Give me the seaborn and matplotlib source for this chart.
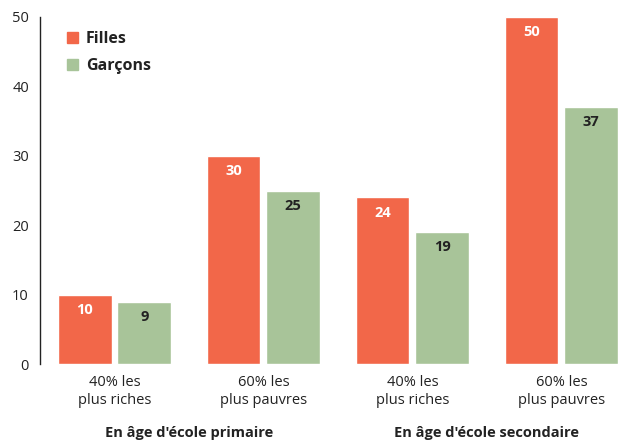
import pandas as pd
import matplotlib.pyplot as plt
import seaborn as sns
from matplotlib.patches import Patch

# Chart values
categories = ['prim_riches', 'prim_pauvres', 'sec_riches', 'sec_pauvres']
tick_labels = ['40% les\nplus riches', '60% les\nplus pauvres',
               '40% les\nplus riches', '60% les\nplus pauvres']
group_labels = ["En âge d'école primaire", "En âge d'école secondaire"]
filles = [10, 30, 24, 50]
garcons = [9, 25, 19, 37]

orange = '#F26749'
green = '#A8C499'

sns.set_style('white')
plt.rcParams['font.family'] = ['Open Sans', 'DejaVu Sans']

df = pd.DataFrame({
    'cat': categories * 2,
    'val': filles + garcons,
    'sexe': ['Filles'] * 4 + ['Garçons'] * 4,
})

fig = plt.figure(figsize=(6.18, 4.42), dpi=100)
ax = fig.add_axes([40 / 618, 78 / 442, 578 / 618, 347 / 442])

sns.barplot(data=df, x='cat', y='val', hue='sexe', order=categories,
            palette=[orange, green], width=0.8, gap=0.1, saturation=1,
            ax=ax, legend=False)

# value labels inside bars
for cont, col in zip(ax.containers, ['white', '#222222']):
    for bar in cont:
        h = bar.get_height()
        ax.annotate(f'{int(h)}', (bar.get_x() + bar.get_width() / 2, h),
                    xytext=(0, -11), textcoords='offset points',
                    ha='center', va='center', fontsize=10.5, fontweight='bold',
                    color=col)

ax.set_xlim(-0.5, 3.38)
ax.set_ylim(0, 50)
ax.set_yticks([0, 10, 20, 30, 40, 50])
ax.set_xticks(range(4))
ax.set_xticklabels(tick_labels, fontsize=10.5, color='#222222', linespacing=1.3)
ax.tick_params(axis='y', labelsize=10.5, colors='#222222', length=0, pad=8)
ax.tick_params(axis='x', length=0, pad=8)
ax.set_xlabel('')
ax.set_ylabel('')

for s in ['top', 'right', 'bottom']:
    ax.spines[s].set_visible(False)
ax.spines['left'].set_color('#222222')
ax.spines['left'].set_linewidth(1)

# group labels under the ticks
for xpos, txt in zip([0.5, 2.5], group_labels):
    ax.text(xpos, -0.2, txt, transform=ax.get_xaxis_transform(),
            ha='center', va='center', fontsize=10.5, fontweight='bold',
            color='#222222')

handles = [Patch(color=orange, label='Filles'), Patch(color=green, label='Garçons')]
leg = ax.legend(handles=handles, loc='upper left', bbox_to_anchor=(0.035, 0.978),
                frameon=False, handlelength=0.7, handleheight=0.7,
                handletextpad=0.5, labelspacing=0.68, borderaxespad=0,
                prop={'weight': 'bold', 'size': 11.5})
for t in leg.get_texts():
    t.set_color('#222222')

fig.savefig('out.png', dpi=100)
